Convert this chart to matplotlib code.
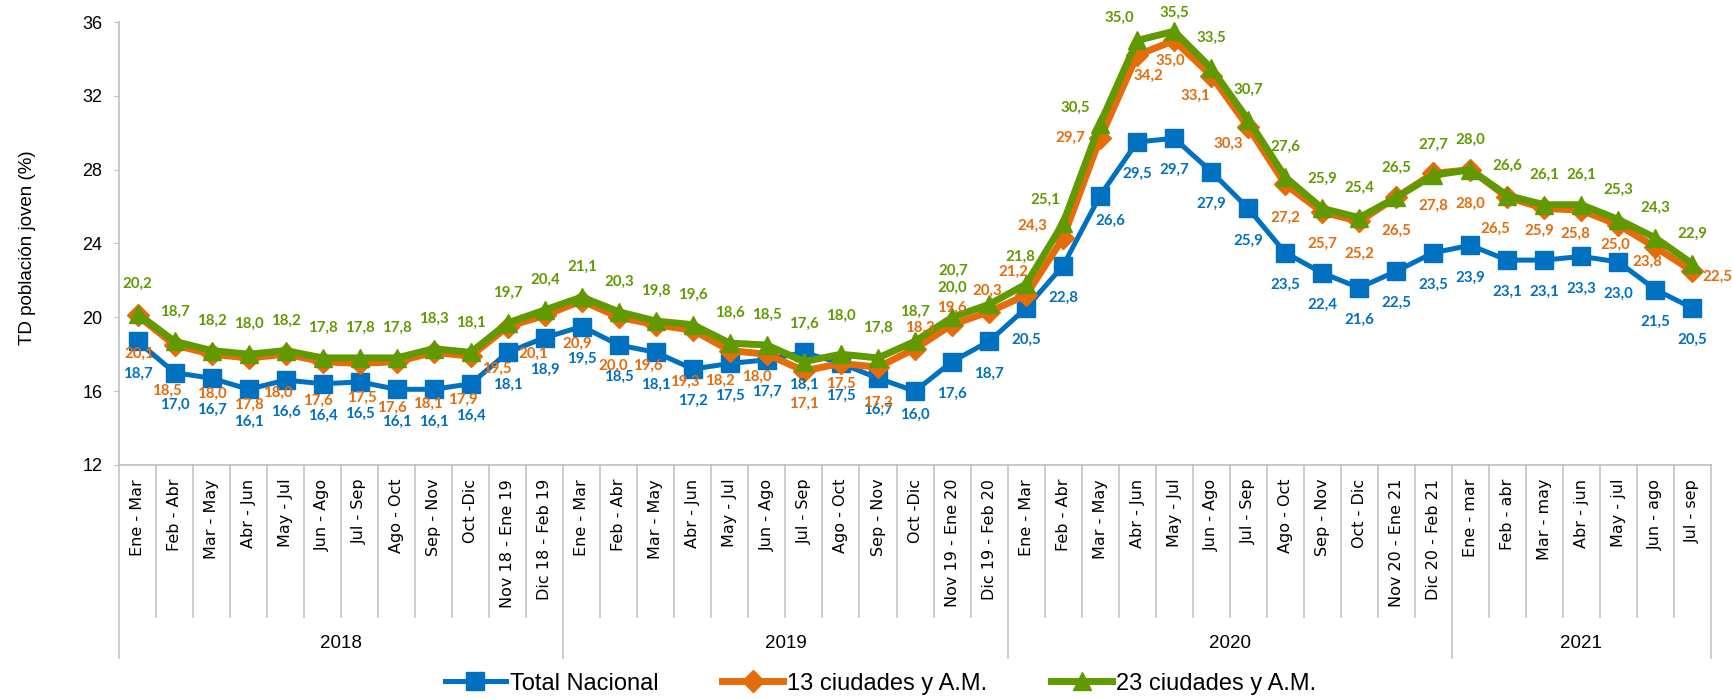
import matplotlib
matplotlib.use('Agg')
import matplotlib.pyplot as plt

# periodos moviles (eje x) y grupos de anio
periodos = ['Ene - Mar', 'Feb - Abr', 'Mar - May', 'Abr - Jun', 'May - Jul', 'Jun - Ago',
            'Jul - Sep', 'Ago - Oct', 'Sep - Nov', 'Oct -Dic', 'Nov 18 - Ene 19', 'Dic 18 - Feb 19',
            'Ene - Mar', 'Feb - Abr', 'Mar - May', 'Abr - Jun', 'May - Jul', 'Jun - Ago',
            'Jul - Sep', 'Ago - Oct', 'Sep - Nov', 'Oct -Dic', 'Nov 19 - Ene 20', 'Dic 19 - Feb 20',
            'Ene - Mar', 'Feb - Abr', 'Mar - May', 'Abr - Jun', 'May - Jul', 'Jun - Ago',
            'Jul - Sep', 'Ago - Oct', 'Sep - Nov', 'Oct - Dic', 'Nov 20 - Ene 21', 'Dic 20 - Feb 21',
            'Ene - mar', 'Feb - abr', 'Mar - may', 'Abr - jun', 'May - jul', 'Jun - ago', 'Jul - sep']
anios = ['2018', '2019', '2020', '2021']
n_por_anio = [12, 12, 12, 7]

total_nacional = [18.7, 17.0, 16.7, 16.1, 16.6, 16.4, 16.5, 16.1, 16.1, 16.4, 18.1, 18.9,
                  19.5, 18.5, 18.1, 17.2, 17.5, 17.7, 18.1, 17.5, 16.7, 16.0, 17.6, 18.7,
                  20.5, 22.8, 26.6, 29.5, 29.7, 27.9, 25.9, 23.5, 22.4, 21.6, 22.5, 23.5,
                  23.9, 23.1, 23.1, 23.3, 23.0, 21.5, 20.5]
ciudades_13 = [20.1, 18.5, 18.0, 17.8, 18.0, 17.6, 17.5, 17.6, 18.1, 17.9, 19.5, 20.1,
               20.9, 20.0, 19.6, 19.3, 18.2, 18.0, 17.1, 17.5, 17.3, 18.3, 19.6, 20.3,
               21.2, 24.3, 29.7, 34.2, 35.0, 33.1, 30.3, 27.2, 25.7, 25.2, 26.5, 27.8,
               28.0, 26.5, 25.9, 25.8, 25.0, 23.8, 22.5]
ciudades_23 = [20.2, 18.7, 18.2, 18.0, 18.2, 17.8, 17.8, 17.8, 18.3, 18.1, 19.7, 20.4,
               21.1, 20.3, 19.8, 19.6, 18.6, 18.5, 17.6, 18.0, 17.8, 18.7, 20.0, 20.7,
               21.8, 25.1, 30.5, 35.0, 35.5, 33.5, 30.7, 27.6, 25.9, 25.4, 26.5, 27.7,
               28.0, 26.6, 26.1, 26.1, 25.3, 24.3, 22.9]

AZUL = '#0070C0'
NARANJA = '#E46C0A'
VERDE = '#609A00'
GRIS = '#BFBFBF'
SANS = 'Liberation Sans'

# desplazamiento de las etiquetas (pixeles), como en el original
off_azul = {i: (0, -32) for i in range(43)}
off_azul[26] = (10, -25)
off_azul[21] = (0, -24)

off_verde = {i: (0, 30) for i in range(43)}
off_verde.update({18: (0, 38), 19: (0, 38), 23: (-36, 34), 24: (-6, 27), 25: (-18, 23),
                  26: (-25, 16), 27: (-18, 23), 28: (0, 18)})

off_naranja = [(2, -38), (-8, -46), (0, -40), (0, -47), (-8, -39), (-5, -39), (2, -34),
               (-5, -46), (-6, -51), (-8, -44), (-11, -42), (-12, -38),
               (-5, -43), (-6, -48), (-8, -41), (-8, -52), (-10, -30), (-10, -23), (0, -33),
               (0, -20), (0, -36), (5, 21), (0, 17), (-2, 21),
               (-13, 23), (-31, 12), (-30, 0), (11, -21), (-4, -20), (-16, -20), (-20, -17),
               (0, -33), (0, -32), (0, -32), (0, -33), (0, -32),
               (0, -34), (-12, -31), (-5, -22), (-6, -24), (-3, -20), (-8, -15), (25, -6)]

fig = plt.figure(figsize=(17.33, 6.99), dpi=100)
ax = fig.add_axes([0.0687, 0.3348, 0.9186, 0.6337])

x = list(range(len(periodos)))
series = [
    ('Total Nacional', total_nacional, AZUL, 's', 3.6, 13, off_azul),
    ('13 ciudades y A.M.', ciudades_13, NARANJA, 'D', 5, 11, dict(enumerate(off_naranja))),
    ('23 ciudades y A.M.', ciudades_23, VERDE, '^', 5, 13, off_verde),
]
handles = []
for nombre, vals, col, mk, lw, ms, offs in series:
    h, = ax.plot(x, vals, color=col, lw=lw, marker=mk, ms=ms, mec=col, mfc=col,
                 label=nombre, solid_joinstyle='round', zorder=3)
    handles.append(h)
for nombre, vals, col, mk, lw, ms, offs in series:
    for i, v in enumerate(vals):
        ax.annotate(f'{v:.1f}'.replace('.', ','), (i, v), xytext=offs[i],
                    textcoords='offset pixels', ha='center', va='center',
                    color=col, fontsize=10.8, fontweight='bold', family='Lato',
                    annotation_clip=False, zorder=5)

ax.set_xlim(-0.5, len(periodos) - 0.5)
ax.set_ylim(12, 36)
ax.set_yticks(range(12, 37, 4))
ax.set_xticks(x)
ax.set_xticklabels(periodos, rotation=90, fontsize=11.5, family='DejaVu Sans')
ax.tick_params(axis='x', length=0, pad=10)
ax.tick_params(axis='y', length=3.6, color=GRIS, pad=8.5)
for lab in ax.get_yticklabels():
    lab.set_family(SANS)
    lab.set_fontsize(13)

for s in ['top', 'right']:
    ax.spines[s].set_visible(False)
for s in ['left', 'bottom']:
    ax.spines[s].set_color(GRIS)
    ax.spines[s].set_linewidth(1.2)

ax.set_ylabel('TD población joven (%)', fontsize=13.5, family=SANS)
ax.yaxis.set_label_coords(-0.052, 0.49)

# separadores de categorias y de anios
tr = ax.get_xaxis_transform()
limites = [0]
for n in n_por_anio:
    limites.append(limites[-1] + n)
for k in range(len(periodos) + 1):
    fondo = -0.436 if k in limites else -0.343
    ax.plot([k - 0.5, k - 0.5], [0, fondo], transform=tr, color=GRIS, lw=1.1, clip_on=False)
for a, ini, fin in zip(anios, limites[:-1], limites[1:]):
    ax.text((ini + fin - 1) / 2, -0.404, a, transform=tr, ha='center', va='center',
            fontsize=13.5, family=SANS)

fig.legend(handles=handles, loc='center', bbox_to_anchor=(0.508, 0.022), ncol=3,
           frameon=False, handlelength=2.6, handletextpad=0.15, columnspacing=2.7,
           prop={'family': SANS, 'size': 17})

fig.savefig('out.png', dpi=100)
